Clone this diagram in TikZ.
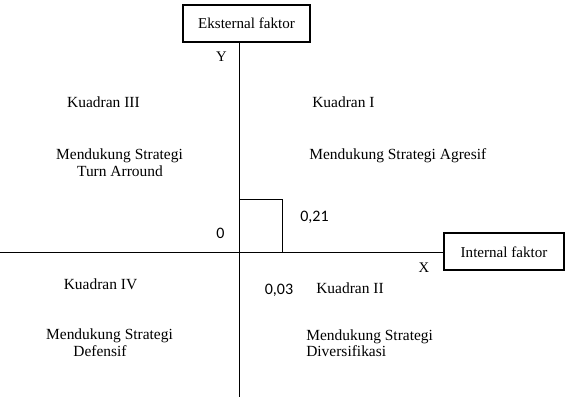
\documentclass[tikz,border=0pt]{standalone}
\usepackage{fontspec}
\setmainfont{Liberation Serif}
\newfontfamily\numfont{Carlito}
\usepackage{tikz}

\begin{document}
\begin{tikzpicture}[x=0.75pt,y=-0.75pt,every node/.style={font=\fontsize{11.6}{13}\selectfont,inner sep=0pt}]
\tikzset{factorbox/.style={draw,line width=1.5pt,minimum height=27.75pt,font=\fontsize{11.3}{13}\selectfont},
  num/.style={anchor=base,font=\numfont\fontsize{12}{14}\selectfont}}
\useasboundingbox (0,0) rectangle (565,399);
% boxes
\node[factorbox,minimum width=95.25pt] (eks) at (246.5,23.5) {Eksternal faktor};
\node[factorbox,minimum width=90pt] (int) at (504,252) {Internal faktor};
% axes
\coordinate (ybot) at (239,397);
\coordinate (xleft) at (0,252);
\coordinate (o) at (239,252);
\draw[line width=0.7pt] (eks.south -| ybot) -- (ybot);
\draw[line width=0.7pt] (xleft) -- (int.west);
\draw[line width=0.7pt] (o) rectangle (282,199);
% axis labels
\node[anchor=base,font=\fontsize{11}{13}\selectfont] (ylab) at (221.5,62) {Y};
\node[anchor=base,font=\fontsize{11}{13}\selectfont] (xlab) at (424,273) {X};
\node[num] (zero) at (220.5,239) {0};
\node[num] (vy) at (314.5,222) {0,21};
\node[num] (vx) at (279,295) {0,03};
% kuadran III
\node[anchor=base] (k3) at (103.5,108) {Kuadran III};
\node[anchor=base] (k3a) at (119.5,160) {Mendukung Strategi};
\node[anchor=base] (k3b) at (120,177) {Turn Arround};
% kuadran I
\node[anchor=base west] (k1) at (312,108) {Kuadran I};
\node[anchor=base west] (k1a) at (309,160) {Mendukung Strategi Agresif};
% kuadran IV
\node[anchor=base] (k4) at (100.5,290) {Kuadran IV};
\node[anchor=base] (k4a) at (109.5,340) {Mendukung Strategi};
\node[anchor=base] (k4b) at (100,357) {Defensif};
% kuadran II
\node[anchor=base west] (k2) at (316,294) {Kuadran II};
\node[anchor=base west] (k2a) at (306,341) {Mendukung Strategi};
\node[anchor=base west] (k2b) at (306,357) {Diversifikasi};
\end{tikzpicture}
\end{document}
